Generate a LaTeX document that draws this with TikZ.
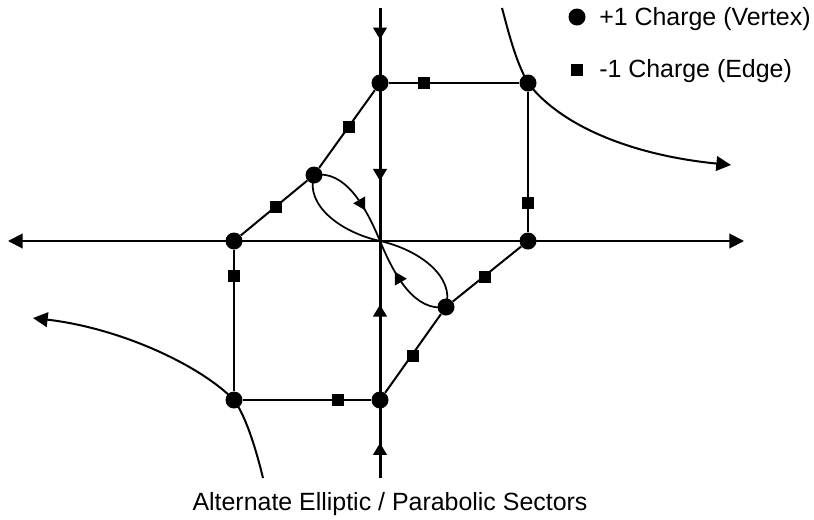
\documentclass[tikz,border=0pt]{standalone}
\usepackage{fontspec}
\setmainfont{Liberation Sans}
\usetikzlibrary{arrows.meta,decorations.markings}
\pgfdeclarelayer{bg}
\pgfsetlayers{bg,main}
\begin{document}
\begin{tikzpicture}[x=0.75pt,y=-0.75pt,
  vtx/.style={circle,fill=black,inner sep=0pt,minimum size=12.75pt},
  sq/.style={rectangle,fill=black,inner sep=0pt,minimum size=9pt},
  edge/.style={line width=1.5pt},
  vaxis/.style={line width=2.25pt},
  haxis/.style={line width=1.5pt},
  hypc/.style={line width=1.5pt},
  loopc/.style={line width=1.3pt},
  bigtri/.tip={Triangle[length=11pt,width=11pt]},
  midarrow/.style={postaction={decorate},decoration={markings,mark=at position #1 with {\arrow{Triangle[length=9pt,width=10pt]}}}},
  lbl/.style={inner sep=0pt,font=\fontsize{18.7}{22}\selectfont,text=black}
]
\useasboundingbox (0,0) rectangle (814,519);

% vertices and charges
\coordinate (O) at (380,241);
\node[vtx] (A) at (380,83) {};
\node[vtx] (B) at (528,83) {};
\node[vtx] (C) at (314,175) {};
\node[vtx] (D) at (234,241) {};
\node[vtx] (E) at (528,241) {};
\node[vtx] (F) at (446,307) {};
\node[vtx] (G) at (234,400) {};
\node[vtx] (H) at (380,400) {};

\node[sq] (sAB) at (424,83) {};
\node[sq] (sBE) at (528,203) {};
\node[sq] (sAC) at (349,127) {};
\node[sq] (sCD) at (276,207) {};
\node[sq] (sDG) at (234,276) {};
\node[sq] (sGH) at (338,400) {};
\node[sq] (sHF) at (413,356) {};
\node[sq] (sFE) at (485,277) {};

\coordinate (T) at (380,8);
\coordinate (Bt) at (380,478);
\coordinate (L) at (8,241);
\coordinate (R) at (744,241);
\coordinate (TR1) at (502,8);
\coordinate (TR2) at (731,165);
\coordinate (BL1) at (33,318);
\coordinate (BL2) at (263,478);

\begin{pgfonlayer}{bg}
  % axes
  \draw[haxis,{bigtri}-{bigtri}] (L) -- (R);
  \draw[vaxis,midarrow=0.42] (T) -- (A.center);
  \draw[vaxis,midarrow=0.62] (A.center) -- (O);
  \draw[vaxis,midarrow=0.6] (H.center) -- (O);
  \draw[vaxis,midarrow=0.45] (Bt) -- (H.center);
  % polygon edges
  \draw[edge] (A) -- (B);
  \draw[edge] (B) -- (E);
  \draw[edge] (A) -- (C);
  \draw[edge] (C) -- (D);
  \draw[edge] (D) -- (G);
  \draw[edge] (G) -- (H);
  \draw[edge] (H) -- (F);
  \draw[edge] (F) -- (E);
  % elliptic loops
  \draw[loopc,midarrow=0.66] (C.center) .. controls (345,170) and (365,205) .. (O);
  \draw[loopc] (C.center) .. controls (305,205) and (340,232) .. (O);
  \draw[loopc,midarrow=0.66] (F.center) .. controls (415,312) and (395,277) .. (O);
  \draw[loopc] (F.center) .. controls (455,277) and (420,250) .. (O);
  % parabolic curves
  \draw[hypc,-{bigtri}] (TR1) .. controls (508,30) and (515,60) .. (B.center)
        .. controls (560,125) and (630,155) .. (TR2);
  \draw[hypc,-{bigtri}] (BL2) .. controls (255,445) and (245,415) .. (G.center)
        .. controls (200,365) and (120,328) .. (BL1);
\end{pgfonlayer}

% legend
\node[vtx] (lc) at (577,17) {};
\node[lbl,anchor=base west] (lt1) at (599,25) {+1 Charge (Vertex)};
\node[sq] (ls) at (577,70) {};
\node[lbl,anchor=base west] (lt2) at (599,77) {-1 Charge (Edge)};

% caption
\node[lbl,anchor=base] (cap) at (390,510) {Alternate Elliptic / Parabolic Sectors};
\end{tikzpicture}
\end{document}
